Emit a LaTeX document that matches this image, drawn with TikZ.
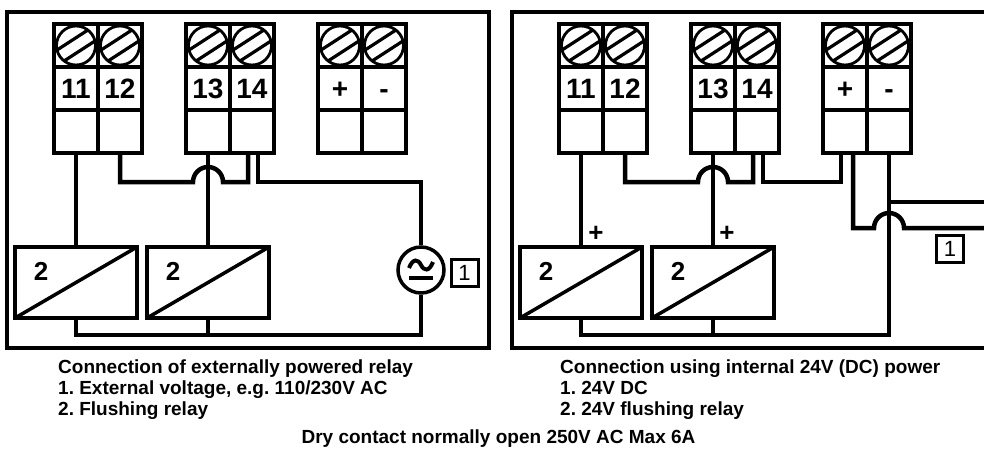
\documentclass[tikz,border=0pt]{standalone}
\usepackage{fontspec}
\setmainfont{Liberation Sans}
\usetikzlibrary{calc}
\frenchspacing
\newcommand\numfnt{\fontsize{28}{28}\selectfont\bfseries}
\newcommand\pmfnt{\fontsize{28}{28}\selectfont\bfseries}
\newcommand\screwhead[1]{%
  \draw[line width=2.8pt] (#1) circle (19.5pt);
  \begin{scope}
    \clip (#1) circle (19.5pt);
    \draw[line width=3.2pt] ($(#1)+(-17.5,19.1)$) -- ($(#1)+(24.5,-8.1)$);
    \draw[line width=3.2pt] ($(#1)+(-24.5,8.1)$) -- ($(#1)+(17.5,-19.1)$);
  \end{scope}}
\newcommand\tblock[5]{%
  \node[cell] (#1sa) at (#2+22,45.5) {};
  \node[cell] (#1sb) at (#2+66,45.5) {};
  \node[cell,font=#5] (#1na) at (#2+22,88.5) {\vphantom{1}\smash{#3}};
  \node[cell,font=#5] (#1nb) at (#2+66,88.5) {\vphantom{1}\smash{#4}};
  \node[cell] (#1ba) at (#2+22,131.5) {};
  \node[cell] (#1bb) at (#2+66,131.5) {};
  \screwhead{#1sa}\screwhead{#1sb}}
\begin{document}
\begin{tikzpicture}[x=1pt,y=-1pt,
  frame/.style={line width=3.2pt},
  cell/.style={draw, line width=3.5pt, minimum width=44pt, minimum height=43pt, inner sep=0pt, outer sep=0pt},
  relay/.style={draw, line width=3.5pt, minimum width=122pt, minimum height=71pt, inner sep=0pt, outer sep=0pt,
    path picture={\draw[line width=3.5pt] (path picture bounding box.south west) -- (path picture bounding box.north east);}},
  wire/.style={line width=4.5pt, line join=miter},
  rlab/.style={font=\fontsize{26}{26}\selectfont\bfseries, inner sep=0pt},
  plab/.style={font=\fontsize{26}{26}\selectfont\bfseries, inner sep=0pt},
  numbox/.style={draw, line width=3pt, minimum size=27pt, inner sep=0pt, font=\fontsize{22}{22}\selectfont},
  caption/.style={font=\fontsize{19}{21}\selectfont\bfseries, inner sep=0pt}]
\useasboundingbox (0,0) rectangle (984,448);
% frames
\draw[frame] (7,12) rectangle (489,348);
\draw[frame] (984,12) -- (512,12) -- (512,348) -- (984,348);
% terminal blocks
\tblock{L1}{54}{11}{12}{\numfnt}
\tblock{L2}{186}{13}{14}{\numfnt}
\tblock{L3}{318}{+}{-}{\pmfnt}
\tblock{R1}{559}{11}{12}{\numfnt}
\tblock{R2}{691}{13}{14}{\numfnt}
\tblock{R3}{823}{+}{-}{\pmfnt}
% relays
\node[relay] (LR1) at (76,282.5) {};
\node[relay] (LR2) at (208,282.5) {};
\node[relay] (RR1) at (581,282.5) {};
\node[relay] (RR2) at (713,282.5) {};
\node[rlab] (LR1n) at ([xshift=-35pt,yshift=11pt]LR1.center) {2};
\node[rlab] (LR2n) at ([xshift=-35pt,yshift=11pt]LR2.center) {2};
\node[rlab] (RR1n) at ([xshift=-35pt,yshift=11pt]RR1.center) {2};
\node[rlab] (RR2n) at ([xshift=-35pt,yshift=11pt]RR2.center) {2};
\node[plab] (RR1p) at (596,234) {+};
\node[plab] (RR2p) at (727,234) {+};
% AC source
\node[draw, circle, line width=3.5pt, minimum size=46pt, inner sep=0pt] (AC) at (421,270) {};
\draw[line width=4pt] ($(AC)+(-12,-2)$) .. controls ($(AC)+(-8,-12)$) and ($(AC)+(-3,-11)$) .. ($(AC)+(0,-5)$)
   .. controls ($(AC)+(3,1)$) and ($(AC)+(8,2)$) .. ($(AC)+(12,-8)$);
\draw[line width=4.5pt] ($(AC)+(-12,8)$) -- ($(AC)+(12,8)$);
\node[numbox] (L1box) at (464.5,272.5) {1};
\node[numbox] (R1box) at (950,249) {1};
% left wires
\coordinate (Lh) at (L2ba.south |- 0,182);
\coordinate (L14a) at ([xshift=-4pt]L2bb.south);
\coordinate (L14b) at ([xshift=6pt]L2bb.south);
\coordinate (Lbus) at (0,335);
\draw[wire] (L1ba.south) -- (L1ba.south |- LR1.north);
\draw[wire] (L2ba.south) -- (L2ba.south |- LR2.north);
\draw[wire] (L1bb.south) -- (L1bb.south |- Lh) -- ($(Lh)+(-15,0)$)
  .. controls ($(Lh)+(-15,-8.3)$) and ($(Lh)+(-8.3,-15)$) .. ($(Lh)+(0,-15)$)
  .. controls ($(Lh)+(8.3,-15)$) and ($(Lh)+(15,-8.3)$) .. ($(Lh)+(15,0)$)
  -- (L14a |- Lh) -- (L14a);
\draw[wire] (L14b) -- (L14b |- Lh) -| (AC.north);
\draw[wire] (AC.south) |- (LR1.south |- Lbus) -- (LR1.south);
\draw[wire] (LR2.south) -- (LR2.south |- Lbus);
% right wires
\coordinate (Rh) at (R2ba.south |- 0,182);
\coordinate (R14a) at ([xshift=-4pt]R2bb.south);
\coordinate (R14b) at ([xshift=6pt]R2bb.south);
\coordinate (Rpa) at ([xshift=-4pt]R3ba.south);
\coordinate (Rpb) at ([xshift=8pt]R3ba.south);
\coordinate (Rh2) at (R3bb.south |- 0,228);
\coordinate (Redge) at (984,0);
\coordinate (Rbus) at (0,335);
\draw[wire] (R1ba.south) -- (R1ba.south |- RR1.north);
\draw[wire] (R2ba.south) -- (R2ba.south |- RR2.north);
\draw[wire] (R1bb.south) -- (R1bb.south |- Rh) -- ($(Rh)+(-15,0)$)
  .. controls ($(Rh)+(-15,-8.3)$) and ($(Rh)+(-8.3,-15)$) .. ($(Rh)+(0,-15)$)
  .. controls ($(Rh)+(8.3,-15)$) and ($(Rh)+(15,-8.3)$) .. ($(Rh)+(15,0)$)
  -- (R14a |- Rh) -- (R14a);
\draw[wire] (R14b) -- (R14b |- Rh) -- (Rpa |- Rh) -- (Rpa);
\draw[wire] (Rpb) -- (Rpb |- Rh2) -- ($(Rh2)+(-15,0)$)
  .. controls ($(Rh2)+(-15,-8.3)$) and ($(Rh2)+(-8.3,-15)$) .. ($(Rh2)+(0,-15)$)
  .. controls ($(Rh2)+(8.3,-15)$) and ($(Rh2)+(15,-8.3)$) .. ($(Rh2)+(15,0)$)
  -- (Redge |- Rh2);
\draw[wire] (R3bb.south) -- (R3bb.south |- Rbus) -- (RR1.south |- Rbus) -- (RR1.south);
\draw[wire] (RR2.south) -- (RR2.south |- Rbus);
\draw[wire] (R3bb.south |- 0,202) -- (Redge |- 0,202);
% captions
\node[caption, anchor=base west] (Lc1) at (58,373) {Connection of externally powered relay};
\node[caption, anchor=base west] (Lc2) at (58,394) {1. External voltage, e.g. 110/230V AC};
\node[caption, anchor=base west] (Lc3) at (58,415) {2. Flushing relay};
\node[caption, anchor=base west] (Rc1) at (560,373) {Connection using internal 24V (DC) power};
\node[caption, anchor=base west] (Rc2) at (560,394) {1. 24V DC};
\node[caption, anchor=base west] (Rc3) at (560,415) {2. 24V flushing relay};
\node[caption, anchor=base] (Bc) at (498.5,443) {Dry contact normally open 250V AC Max 6A};
\end{tikzpicture}
\end{document}
